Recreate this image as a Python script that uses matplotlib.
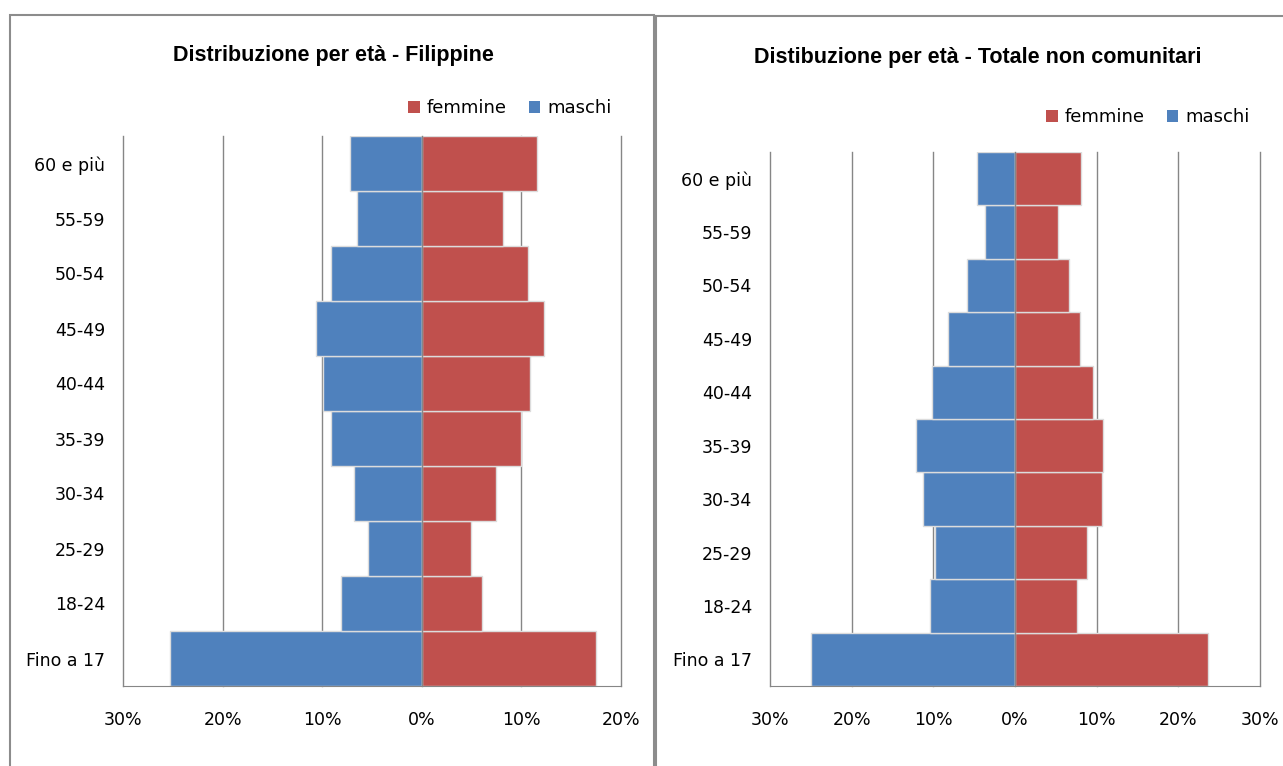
import matplotlib
matplotlib.use('Agg')
import matplotlib.pyplot as plt
from matplotlib.patches import Patch, Rectangle

# classi di età, dal basso verso l'alto
eta = ['Fino a 17', '18-24', '25-29', '30-34', '35-39', '40-44', '45-49', '50-54', '55-59', '60 e più']

# Filippine (% sul totale)
fil_maschi = [25.3, 8.1, 5.4, 6.8, 9.1, 9.9, 10.6, 9.1, 6.5, 7.2]
fil_femmine = [17.5, 6.0, 4.9, 7.4, 10.0, 10.9, 12.3, 10.7, 8.2, 11.6]

# totale non comunitari (% sul totale)
tot_maschi = [25.0, 10.4, 9.8, 11.3, 12.1, 10.2, 8.2, 5.9, 3.7, 4.7]
tot_femmine = [23.6, 7.6, 8.8, 10.6, 10.8, 9.6, 7.9, 6.6, 5.3, 8.1]

BLU = '#4F81BD'
ROSSO = '#C0504D'
GRIGIO = '#868686'
TITOLO = ['Liberation Sans', 'DejaVu Sans']

W, H = 1283, 766
fig = plt.figure(figsize=(W / 100, H / 100), dpi=100)
fig.patch.set_facecolor('white')


def box(x0, y0, x1, y1):
    return [x0 / W, 1 - y1 / H, (x1 - x0) / W, (y1 - y0) / H]


def piramide(ax, maschi, femmine, xmin, xmax):
    y = list(range(len(eta)))
    ax.barh(y, [-v for v in maschi], height=1.0, color=BLU, edgecolor='#dcdcdc', linewidth=1, zorder=2)
    ax.barh(y, femmine, height=1.0, color=ROSSO, edgecolor='#dcdcdc', linewidth=1, zorder=2)
    ax.set_xlim(xmin, xmax)
    ax.set_ylim(-0.5, len(eta) - 0.5)
    ticks = list(range(xmin, xmax + 1, 10))
    ax.set_xticks(ticks)
    ax.set_xticklabels(['%d%%' % abs(t) for t in ticks])
    ax.set_yticks(y)
    ax.set_yticklabels(eta)
    for t in ticks:
        ax.axvline(t, color=GRIGIO, lw=1, zorder=1, clip_on=False)
    ax.axvline(0, color=GRIGIO, lw=1, zorder=3)
    for s in ['top', 'left', 'right']:
        ax.spines[s].set_visible(False)
    ax.spines['bottom'].set_color(GRIGIO)
    ax.tick_params(axis='both', length=0, labelsize=12.5)
    ax.tick_params(axis='y', pad=13)
    ax.tick_params(axis='x', pad=18)


def legenda(ax, x, y):
    handles = [Patch(facecolor=ROSSO, edgecolor='none', label='femmine'),
               Patch(facecolor=BLU, edgecolor='none', label='maschi')]
    ax.legend(handles=handles, ncol=2, loc='center right', bbox_to_anchor=(x / W, 1 - y / H),
              bbox_transform=fig.transFigure, frameon=False, fontsize=13, borderaxespad=0,
              borderpad=0, handlelength=0.65, handleheight=0.65, handletextpad=0.4, columnspacing=1.2)


# cornici dei due grafici
fig.add_artist(Rectangle((10 / W, -0.05), 644 / W, 1.05 - 15 / H, transform=fig.transFigure,
                         fill=False, edgecolor='#8c8c8c', lw=1.5))
fig.add_artist(Rectangle((656 / W, -0.05), 700 / W, 1.05 - 16 / H, transform=fig.transFigure,
                         fill=False, edgecolor='#8c8c8c', lw=1.5))

ax1 = fig.add_axes(box(123, 136, 621, 686))
piramide(ax1, fil_maschi, fil_femmine, -30, 20)
legenda(ax1, 612, 108)
fig.text(333 / W, 1 - 56 / H, 'Distribuzione per età - Filippine', ha='center', va='center',
         fontsize=15.5, fontweight='bold', family=TITOLO)

ax2 = fig.add_axes(box(770, 152, 1260, 686))
piramide(ax2, tot_maschi, tot_femmine, -30, 30)
legenda(ax2, 1250, 117)
fig.text(978 / W, 1 - 57 / H, 'Distibuzione per età - Totale non comunitari', ha='center', va='center',
         fontsize=15.5, fontweight='bold', family=TITOLO)

fig.savefig('out.png', dpi=100)
